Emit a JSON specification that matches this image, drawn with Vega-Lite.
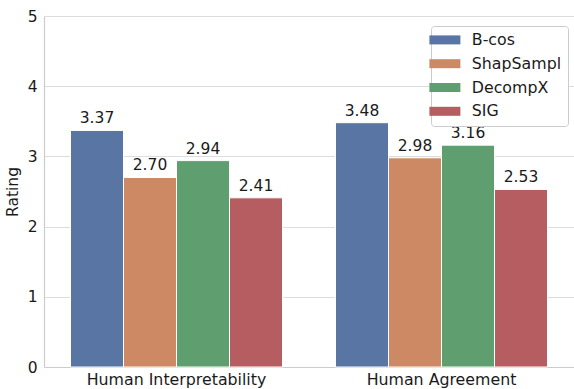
{
  "$schema": "https://vega.github.io/schema/vega-lite/v6.json",
  "autosize": {"type": "none"},
  "padding": {"left": 44, "top": 16, "right": 0, "bottom": 22},
  "width": 530,
  "height": 351,
  "background": "white",
  "config": {
    "font": "DejaVu Sans",
    "view": {"stroke": null}
  },
  "data": {
    "values": [
      {"metric": "Human Interpretability", "method": "B-cos", "rating": 3.37},
      {"metric": "Human Interpretability", "method": "ShapSampl", "rating": 2.70},
      {"metric": "Human Interpretability", "method": "DecompX", "rating": 2.94},
      {"metric": "Human Interpretability", "method": "SIG", "rating": 2.41},
      {"metric": "Human Agreement", "method": "B-cos", "rating": 3.48},
      {"metric": "Human Agreement", "method": "ShapSampl", "rating": 2.98},
      {"metric": "Human Agreement", "method": "DecompX", "rating": 3.16},
      {"metric": "Human Agreement", "method": "SIG", "rating": 2.53}
    ]
  },
  "encoding": {
    "x": {
      "field": "metric", "type": "nominal",
      "sort": ["Human Interpretability", "Human Agreement"],
      "scale": {"paddingInner": 0.2, "paddingOuter": 0.1},
      "axis": {
        "title": null, "labelAngle": 0, "labelFontSize": 15.8, "labelColor": "#1a1a1a",
        "ticks": false, "labelPadding": 5, "domainColor": "#cccccc", "domainWidth": 1.2,
        "grid": false
      }
    },
    "xOffset": {
      "field": "method", "type": "nominal",
      "sort": ["B-cos", "ShapSampl", "DecompX", "SIG"],
      "scale": {"paddingInner": 0, "paddingOuter": 0}
    },
    "y": {
      "field": "rating", "type": "quantitative",
      "scale": {"domain": [0, 5], "nice": false},
      "axis": {
        "title": "Rating", "titleFontSize": 15.5, "titleFontWeight": "normal", "titleColor": "#1a1a1a",
        "titlePadding": 7,
        "values": [0, 1, 2, 3, 4, 5], "format": "d",
        "labelFontSize": 15.5, "labelColor": "#1a1a1a", "labelPadding": 7,
        "ticks": false, "domainColor": "#cccccc", "domainWidth": 1.2,
        "gridColor": "#dddddd", "gridWidth": 1
      }
    }
  },
  "layer": [
    {
      "mark": {"type": "bar", "stroke": "white", "strokeWidth": 1},
      "encoding": {
        "color": {
          "field": "method", "type": "nominal",
          "sort": ["B-cos", "ShapSampl", "DecompX", "SIG"],
          "scale": {
            "domain": ["B-cos", "ShapSampl", "DecompX", "SIG"],
            "range": ["#5875a4", "#cc8963", "#5f9e6e", "#b55d60"]
          },
          "legend": {
            "title": null,
            "orient": "none", "legendX": 387, "legendY": 10,
            "symbolType": "M-3.1,-0.9H3.1V0.9H-3.1Z",
            "symbolSize": 100, "symbolStrokeWidth": 0,
            "labelFontSize": 15.8, "labelColor": "#1a1a1a", "labelOffset": 19,
            "rowPadding": 6.8,
            "padding": 6,
            "strokeColor": "#cccccc", "fillColor": "white", "cornerRadius": 3
          }
        }
      }
    },
    {
      "mark": {"type": "text", "baseline": "bottom", "dy": -4, "fontSize": 15.5, "color": "#1a1a1a"},
      "encoding": {
        "text": {"field": "rating", "type": "quantitative", "format": ".2f"}
      }
    }
  ]
}
